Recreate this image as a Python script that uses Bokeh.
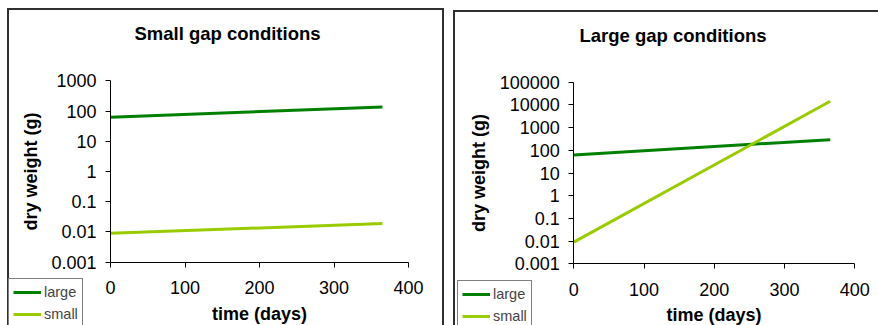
import math
from bokeh.plotting import figure
from bokeh.layouts import row
from bokeh.models import Range1d, FixedTicker, Legend, LegendItem, Label
from bokeh.embed import file_html
from bokeh.resources import INLINE

# ---- data ----
days = [0, 365]
small_gap_large = [62, 136]
small_gap_small = [0.009, 0.019]
large_gap_large = [62, 295]
large_gap_small = [0.009, 14500]

x_ticks = [0, 100, 200, 300, 400]
left_y_ticks = [0.001, 0.01, 0.1, 1, 10, 100, 1000]
left_y_labels = ["0.001", "0.01", "0.1", "1", "10", "100", "1000"]
right_y_ticks = [0.001, 0.01, 0.1, 1, 10, 100, 1000, 10000, 100000]
right_y_labels = ["0.001", "0.01", "0.1", "1", "10", "100", "1000", "10000", "100000"]

titles = ["Small gap conditions", "Large gap conditions"]
series_names = ["large", "small"]
colors = ["#008000", "#99CC00"]

FONT = "Liberation Sans"
EDGE = "#303030"
H = 325


def border_css(left, top, right):
    # chart-area border: top, left and right edges (bottom is cut by the window)
    g = f"linear-gradient({EDGE},{EDGE})"
    w = right - left
    return {
        "background": (f"{g} {left}px {top}px / {w}px 2px no-repeat, "
                       f"{g} {left}px {top}px / 2px 400px no-repeat, "
                       f"{g} {right - 2}px {top}px / 2px 400px no-repeat, white"),
    }


def make_panel(title, ymin, ymax, yticks, ylabels, large, small, width,
               px0, px1, py_top, py_bot, title_xy, legend_xy, box):
    # plot area in pixels: x in [px0, px1], y in [py_top, py_bot] (from top of canvas)
    xmin, xmax = x_ticks[0], x_ticks[-1]
    ppx = (px1 - px0) / (xmax - xmin)
    x_start = xmin - px0 / ppx
    x_end = xmax + (width - px1) / ppx
    lo, hi = math.log10(ymin), math.log10(ymax)
    ppd = (py_bot - py_top) / (hi - lo)
    y_start = 10 ** (lo - (H - py_bot) / ppd)
    y_end = 10 ** (hi + py_top / ppd)

    p = figure(width=width, height=H, output_backend="svg", toolbar_location=None,
               x_range=Range1d(x_start, x_end), y_range=Range1d(y_start, y_end),
               y_axis_type="log", min_border=0, title=None,
               styles=border_css(*box))
    p.outline_line_color = None
    p.grid.grid_line_color = None
    p.background_fill_color = None
    p.border_fill_color = None

    p.xaxis.ticker = FixedTicker(ticks=x_ticks)
    p.yaxis.ticker = FixedTicker(ticks=yticks)
    p.yaxis.major_label_overrides = {t: l for t, l in zip(yticks, ylabels)}
    p.xaxis.fixed_location = ymin
    p.yaxis.fixed_location = xmin
    p.xaxis.bounds = (xmin, xmax)
    p.yaxis.bounds = (ymin, ymax)
    for ax in (p.xaxis, p.yaxis):
        ax.axis_line_color = "black"
        ax.axis_line_width = 1
        ax.major_tick_line_color = "black"
        ax.major_tick_out = 5
        ax.major_tick_in = 0
        ax.minor_tick_line_color = None
        ax.major_label_text_font = FONT
        ax.major_label_text_font_size = "18px"
        ax.major_label_text_color = "black"
        ax.axis_label_text_font = FONT
        ax.axis_label_text_font_size = "18px"
        ax.axis_label_text_font_style = "bold"
        ax.axis_label_text_color = "black"
    p.xaxis.axis_label = "time (days)"
    p.yaxis.axis_label = "dry weight (g)"
    p.xaxis.major_label_standoff = 14
    p.xaxis.axis_label_standoff = 6
    p.yaxis.major_label_standoff = 9
    p.yaxis.axis_label_standoff = 7

    r1 = p.line(days, large, line_color=colors[0], line_width=3)
    r2 = p.line(days, small, line_color=colors[1], line_width=3)

    legend = Legend(items=[LegendItem(label=series_names[0], renderers=[r1]),
                           LegendItem(label=series_names[1], renderers=[r2])],
                    location=legend_xy, orientation="vertical",
                    border_line_color="black", border_line_width=1,
                    background_fill_color="white", background_fill_alpha=1,
                    padding=4, spacing=4, margin=0, glyph_width=28, glyph_height=18,
                    label_standoff=3, label_height=18,
                    label_text_font=FONT, label_text_font_size="14.5px")
    p.add_layout(legend, "center")

    tx, ty = title_xy
    p.add_layout(Label(x=tx, y=H - ty, x_units="screen", y_units="screen", text=title,
                       text_font=FONT, text_font_size="18.5px", text_font_style="bold",
                       text_align="center", text_baseline="middle", text_color="black"))
    return p


p1 = make_panel(titles[0], 0.001, 1000, left_y_ticks, left_y_labels,
                small_gap_large, small_gap_small, 448,
                110, 408, 80.3, 261.7, (227, 33), (8, -3), (7, 8, 444))
p2 = make_panel(titles[1], 0.001, 100000, right_y_ticks, right_y_labels,
                large_gap_large, large_gap_small, 430,
                125.3, 406.3, 81.7, 263.3, (224.5, 35), (9, -5), (5, 10, 440))

layout = row(p1, p2)
open("out.html", "w").write(file_html(layout, INLINE))
